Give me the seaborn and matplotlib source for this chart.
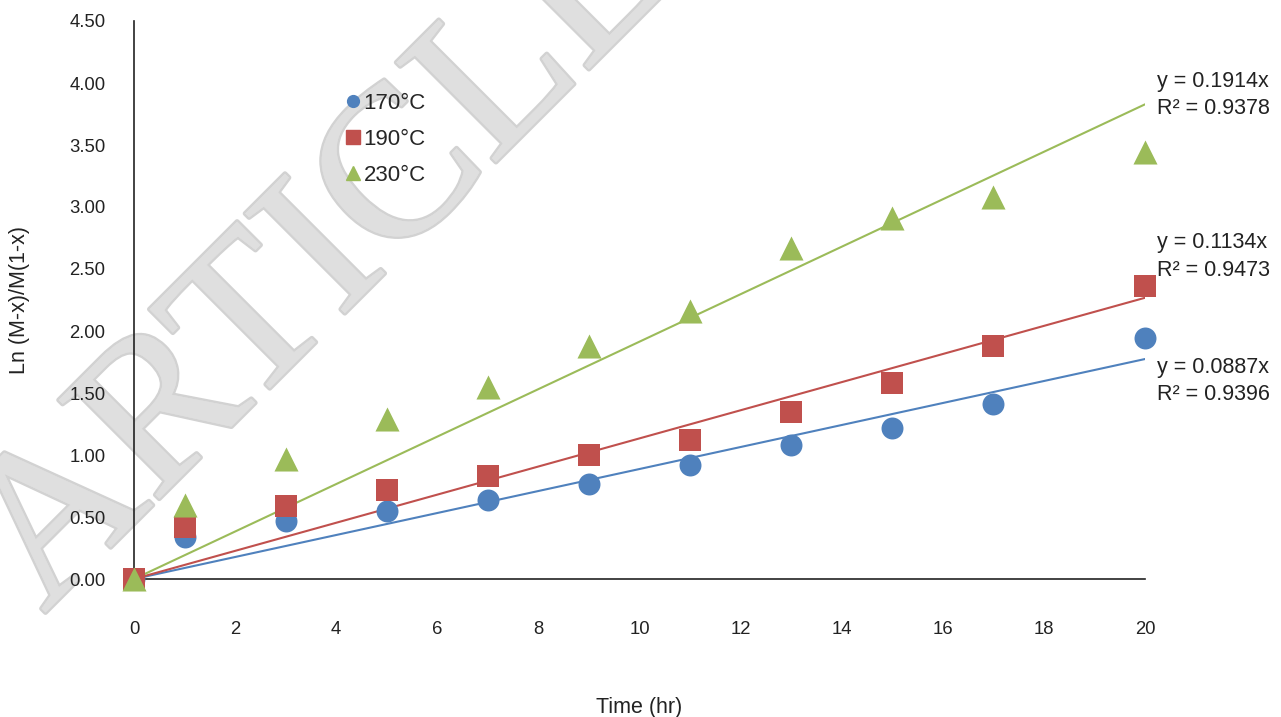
import numpy as np
import pandas as pd
import matplotlib
matplotlib.use("Agg")
import matplotlib.pyplot as plt
import matplotlib.patheffects as pe
from matplotlib.lines import Line2D
import seaborn as sns

# data
time_hr = [0, 1, 3, 5, 7, 9, 11, 13, 15, 17, 20]
y_170 = [0.00, 0.34, 0.47, 0.55, 0.64, 0.77, 0.92, 1.08, 1.22, 1.41, 1.94]
y_190 = [0.00, 0.42, 0.59, 0.72, 0.83, 1.00, 1.12, 1.35, 1.58, 1.88, 2.36]
y_230 = [0.00, 0.60, 0.97, 1.29, 1.55, 1.88, 2.16, 2.67, 2.91, 3.08, 3.44]
series_names = ["170°C", "190°C", "230°C"]
slopes = [0.0887, 0.1134, 0.1914]
r2_values = [0.9396, 0.9473, 0.9378]
y_ticks = [0, 0.5, 1.0, 1.5, 2.0, 2.5, 3.0, 3.5, 4.0, 4.5]
x_ticks = [0, 2, 4, 6, 8, 10, 12, 14, 16, 18, 20]

colors = ["#4F81BD", "#C0504D", "#9BBB59"]
markers = ["o", "s", "^"]
sizes = [250, 270, 300]

df = pd.DataFrame({
    "Time": time_hr * 3,
    "Value": y_170 + y_190 + y_230,
    "Series": [s for s in series_names for _ in time_hr],
})

sns.set_theme(style="white")
plt.rcParams["font.family"] = ["Liberation Sans", "DejaVu Sans"]
txt = "#222222"

fig = plt.figure(figsize=(12.81, 7.17), dpi=100)
ax = fig.add_axes([134 / 1281, 138 / 717, (1145 - 134) / 1281, (579 - 21) / 717])
ax.patch.set_alpha(0)

# watermark behind everything
fig.text(44 / 1281, 1 - 614 / 717, "ARTICLE", fontsize=155, family="Liberation Serif",
         rotation=45, rotation_mode="anchor", ha="left", va="baseline",
         color="#dfdfdf", zorder=-5,
         path_effects=[pe.withStroke(linewidth=3.5, foreground="#d2d2d2"),
                       pe.Normal()])

# fit lines (through origin)
x_fit = np.array([0, 20])
for k, name in enumerate(series_names):
    ax.plot(x_fit, slopes[k] * x_fit, color=colors[k], lw=1.5, zorder=2)

for k, name in enumerate(series_names):
    sub = df[df["Series"] == name]
    sns.scatterplot(data=sub, x="Time", y="Value", ax=ax, color=colors[k],
                    marker=markers[k], s=sizes[k], linewidth=0, zorder=3 + k,
                    legend=False, clip_on=False)

ax.set_xlim(0, 20)
ax.set_ylim(0, 4.5)
ax.set_xticks(x_ticks)
ax.set_yticks(y_ticks)
ax.set_yticklabels([f"{v:.2f}" for v in y_ticks])
ax.tick_params(axis="both", labelsize=13.3, colors=txt, length=0)
ax.tick_params(axis="x", pad=30)
ax.tick_params(axis="y", pad=20.5)
for s in ["top", "right"]:
    ax.spines[s].set_visible(False)
for s in ["left", "bottom"]:
    ax.spines[s].set_color(txt)
    ax.spines[s].set_linewidth(1.2)
ax.set_xlabel("Time (hr)", fontsize=15.5, color=txt, labelpad=43)
ax.set_ylabel("Ln (M-x)/M(1-x)", fontsize=15.5, color=txt, labelpad=28)
ax.grid(False)

# trendline labels
for k, (ya, yb) in enumerate([(368, 394), (243, 270), (82, 108)]):
    fig.text(1157 / 1281, 1 - ya / 717, f"y = {slopes[k]:.4f}x", fontsize=15.5,
             color=txt, va="center", ha="left")
    fig.text(1157 / 1281, 1 - yb / 717, f"R² = {r2_values[k]:.4f}", fontsize=15.5,
             color=txt, va="center", ha="left")

handles = [Line2D([], [], linestyle="none", marker=markers[k], color=colors[k],
                  markersize=ms) for k, ms in enumerate([8.5, 10, 10])]
ax.legend(handles, series_names, loc="upper left",
          bbox_to_anchor=(337 / 1281, 1 - 84 / 717), bbox_transform=fig.transFigure,
          frameon=False, fontsize=16, handlelength=0.6, handletextpad=0.2,
          labelspacing=0.68, borderaxespad=0)

fig.savefig("out.png", dpi=100)
